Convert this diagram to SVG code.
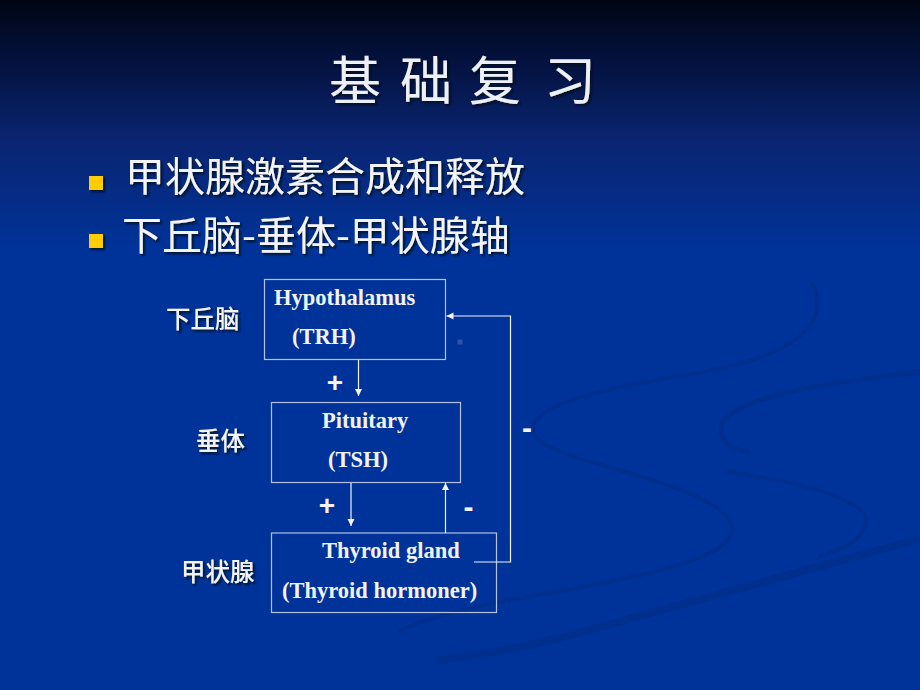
<svg xmlns="http://www.w3.org/2000/svg" width="920" height="690" viewBox="0 0 920 690">
  <defs>
    <linearGradient id="bg" x1="0" y1="0" x2="0" y2="1">
      <stop offset="0" stop-color="#010614"/>
      <stop offset="0.08" stop-color="#03103a"/>
      <stop offset="0.2" stop-color="#0a2470"/>
      <stop offset="0.36" stop-color="#003399"/>
      <stop offset="1" stop-color="#003399"/>
    </linearGradient>
    <filter id="shadow" x="-10%" y="-10%" width="130%" height="140%">
      <feDropShadow dx="2" dy="2" stdDeviation="0.8" flood-color="#000818" flood-opacity="0.85"/>
    </filter>
    <marker id="arrow" markerUnits="userSpaceOnUse" markerWidth="8" markerHeight="8" refX="7" refY="3.5" orient="auto">
      <path d="M0,0 L7,3.5 L0,7 z" fill="#f2f4fa"/>
    </marker>
    <style>
      .title { font-family: "Noto Sans CJK SC", "Noto Sans", sans-serif; font-size: 52px; fill: #eef0f8; }
      .bullet-text { font-family: "Noto Sans CJK SC", "Noto Sans", sans-serif; font-size: 40px; fill: #f4f4f8; }
      .side { font-family: "Noto Sans CJK SC", "Noto Sans", sans-serif; font-size: 24.5px; font-weight: 500; fill: #f4f4f8; }
      .box { fill: none; stroke: #b4c0e0; stroke-width: 1.2; }
      .label { font-family: "Liberation Serif", "Times New Roman", serif; font-size: 22.5px; font-weight: bold; fill: #f2f2f4; }
      .conn { fill: none; stroke: #f2f4fa; stroke-width: 1.2; }
      .sign { font-family: "Liberation Sans", Arial, sans-serif; font-weight: bold; fill: #f4f4f8; }
      .swoosh { fill: none; stroke: #002a80; stroke-linecap: round; opacity: 0.45; }
    </style>
  </defs>

  <rect x="0" y="0" width="920" height="690" fill="url(#bg)"/>

  <!-- background swooshes -->
  <g id="decor">
    <path class="swoosh" stroke-width="4" d="M813 285 C832 330 785 360 680 376 C585 392 520 410 535 436 C552 462 700 480 728 518 C756 556 640 578 520 598 C470 607 430 618 400 630"/>
    <path class="swoosh" stroke-width="5" d="M918 372 C850 380 735 394 722 424 C716 442 735 450 748 452"/>
    <path class="swoosh" stroke-width="4" d="M728 472 C800 482 872 500 866 524 C862 542 835 552 820 556"/>
    <path class="swoosh" stroke-width="8" d="M916 540 C800 572 660 610 560 638 C520 648 480 655 440 660"/>
  </g>

  <!-- title -->
  <text class="title" x="329 400 469 544" y="100" filter="url(#shadow)">基础复习</text>

  <!-- bullets -->
  <g id="bullets">
    <rect x="89" y="176" width="14" height="14" fill="#ffcc00" filter="url(#shadow)"/>
    <text class="bullet-text" x="125" y="191" filter="url(#shadow)">甲状腺激素合成和释放</text>
    <rect x="89" y="234" width="14" height="14" fill="#ffcc00" filter="url(#shadow)"/>
    <text class="bullet-text" x="122" y="250" filter="url(#shadow)">下丘脑-垂体-甲状腺轴</text>
  </g>

  <!-- side labels -->
  <text class="side" x="166" y="328" filter="url(#shadow)">下丘脑</text>
  <text class="side" x="196" y="450" filter="url(#shadow)">垂体</text>
  <text class="side" x="181" y="581" filter="url(#shadow)">甲状腺</text>

  <!-- nodes -->
  <g id="hypothalamus">
    <rect class="box" x="264.5" y="279.5" width="181" height="80"/>
    <text class="label" x="274" y="305">Hypothalamus</text>
    <text class="label" x="292" y="344">(TRH)</text>
  </g>
  <rect x="457.5" y="339.5" width="5" height="5" fill="#3352a6"/>

  <g id="pituitary">
    <rect class="box" x="271.5" y="402.5" width="189" height="80"/>
    <text class="label" x="322" y="428">Pituitary</text>
    <text class="label" x="328" y="467">(TSH)</text>
  </g>

  <g id="thyroid">
    <rect class="box" x="271.5" y="533" width="225" height="79.5"/>
    <text class="label" x="322" y="558">Thyroid gland</text>
    <text class="label" x="282" y="598">(Thyroid hormoner)</text>
  </g>

  <!-- connectors -->
  <g id="connectors">
    <line class="conn" x1="358.5" y1="360" x2="358.5" y2="396" marker-end="url(#arrow)"/>
    <line class="conn" x1="351" y1="483" x2="351" y2="526" marker-end="url(#arrow)"/>
    <line class="conn" x1="445.5" y1="533" x2="445.5" y2="483" marker-end="url(#arrow)"/>
    <polyline class="conn" points="474,562 510.5,562 510.5,316 446.5,316" marker-end="url(#arrow)"/>
  </g>

  <!-- signs -->
  <g id="signs">
    <text class="sign" x="335" y="392" font-size="28" text-anchor="middle">+</text>
    <text class="sign" x="327" y="515" font-size="28" text-anchor="middle">+</text>
    <text class="sign" x="468.5" y="517" font-size="30" text-anchor="middle">-</text>
    <text class="sign" x="527" y="438" font-size="30" text-anchor="middle">-</text>
  </g>
</svg>
